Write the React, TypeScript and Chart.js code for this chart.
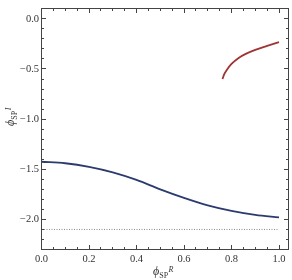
import React, { useEffect, useRef } from "react";
import { Chart, registerables } from "chart.js";

Chart.register(...registerables);

// ---- data ----
const blueX = [0, 0.1, 0.2, 0.3, 0.4, 0.5, 0.6, 0.7, 0.8, 0.9, 1.0];
const blueY = [-1.425, -1.44, -1.475, -1.53, -1.605, -1.70, -1.785, -1.86, -1.915, -1.955, -1.98];

const redX = [0.762, 0.77, 0.78, 0.80, 0.83, 0.86, 0.90, 0.95, 1.0];
const redY = [-0.60, -0.55, -0.51, -0.45, -0.39, -0.35, -0.31, -0.27, -0.232];

const dottedX = [0, 1.0];
const dottedY = [-2.1, -2.1];

// ---- ticks ----
const xMajorTicks = [0, 0.2, 0.4, 0.6, 0.8, 1.0];
const xMinorTicks = [0.05, 0.1, 0.15, 0.25, 0.3, 0.35, 0.45, 0.5, 0.55, 0.65, 0.7, 0.75, 0.85, 0.9, 0.95];
const yMajorTicks = [0, -0.5, -1.0, -1.5, -2.0];
const yMinorTicks = [-0.1, -0.2, -0.3, -0.4, -0.6, -0.7, -0.8, -0.9, -1.1, -1.2, -1.3, -1.4, -1.6, -1.7, -1.8, -1.9, -2.1, -2.2];

const SERIF = '"Liberation Serif", "DejaVu Serif", serif';

function drawPhiLabel(ctx: CanvasRenderingContext2D, sup: string) {
  const parts = [
    { t: "\u03D5", font: `italic 12px ${SERIF}`, dy: 0 },
    { t: "SP", font: `8px ${SERIF}`, dy: 3 },
    { t: sup, font: `italic 8px ${SERIF}`, dy: -3.5 },
  ];
  let total = 0;
  const widths = parts.map((p) => {
    ctx.font = p.font;
    const w = ctx.measureText(p.t).width;
    total += w;
    return w;
  });
  let x = -total / 2;
  ctx.textAlign = "left";
  ctx.textBaseline = "alphabetic";
  ctx.fillStyle = "#333";
  parts.forEach((p, i) => {
    ctx.font = p.font;
    ctx.fillText(p.t, x, p.dy);
    x += widths[i] + (i === 1 ? 0.5 : 0);
  });
}

const framePlugin = {
  id: "frameTicks",
  afterDraw(chart: any) {
    const { ctx, chartArea } = chart;
    const { left, right, top, bottom } = chartArea;
    const xs = chart.scales.x;
    const ys = chart.scales.y;
    const snap = (v: number) => Math.round(v - 0.5) + 0.5;
    ctx.save();
    ctx.strokeStyle = "#444";
    ctx.lineWidth = 1;
    const L = snap(left), R = snap(right), T = snap(top), B = snap(bottom);
    ctx.strokeRect(L, T, R - L, B - T);
    const major = 4.5, minor = 2.5;
    ctx.beginPath();
    const xt = (vals: number[], len: number) => {
      vals.forEach((v) => {
        const px = snap(xs.getPixelForValue(v));
        ctx.moveTo(px, B); ctx.lineTo(px, B - len);
        ctx.moveTo(px, T); ctx.lineTo(px, T + len);
      });
    };
    const yt = (vals: number[], len: number) => {
      vals.forEach((v) => {
        const py = snap(ys.getPixelForValue(v));
        ctx.moveTo(L, py); ctx.lineTo(L + len, py);
        ctx.moveTo(R, py); ctx.lineTo(R - len, py);
      });
    };
    xt(xMajorTicks, major);
    xt(xMinorTicks, minor);
    yt(yMajorTicks, major);
    yt(yMinorTicks, minor);
    ctx.stroke();

    // axis titles
    ctx.save();
    ctx.translate(163, 275);
    drawPhiLabel(ctx, "R");
    ctx.restore();

    ctx.save();
    ctx.translate(14, 117);
    ctx.rotate(-Math.PI / 2);
    drawPhiLabel(ctx, "I");
    ctx.restore();

    ctx.restore();
  },
};

const toPts = (xs: number[], ys: number[]) => xs.map((x, i) => ({ x, y: ys[i] }));

const fmt = (v: number) => (v < 0 ? "\u2212" + Math.abs(v).toFixed(1) : v.toFixed(1));

export default function App() {
  const ref = useRef<HTMLCanvasElement | null>(null);
  useEffect(() => {
    if (!ref.current) return;
    const chart = new Chart(ref.current, {
      type: "scatter",
      data: {
        datasets: [
          {
            data: toPts(dottedX, dottedY),
            showLine: true,
            borderColor: "#8a8a8a",
            borderWidth: 1,
            borderDash: [1, 1.5],
            pointRadius: 0,
          },
          {
            data: toPts(blueX, blueY),
            showLine: true,
            borderColor: "#2c3b6e",
            borderWidth: 1.8,
            pointRadius: 0,
            tension: 0.4,
            cubicInterpolationMode: "monotone",
          },
          {
            data: toPts(redX, redY),
            showLine: true,
            borderColor: "#a03333",
            borderWidth: 1.8,
            pointRadius: 0,
            tension: 0.4,
            cubicInterpolationMode: "monotone",
          },
        ],
      } as any,
      options: {
        animation: false,
        responsive: true,
        maintainAspectRatio: false,
        layout: { padding: { top: 2.5, right: 3.5, left: 0, bottom: 0 } },
        plugins: { legend: { display: false }, tooltip: { enabled: false } },
        scales: {
          x: {
            type: "linear",
            min: 0,
            max: 1.04,
            grid: { display: false, drawTicks: false },
            border: { display: false },
            afterBuildTicks: (s: any) => {
              s.ticks = xMajorTicks.map((v) => ({ value: v }));
            },
            afterFit: (s: any) => {
              s.height = 30.5;
            },
            ticks: {
              padding: 3,
              color: "#333",
              font: { family: SERIF, size: 10.5 },
              maxRotation: 0,
              autoSkip: false,
              callback: (v: any) => fmt(Number(v)),
            },
          },
          y: {
            type: "linear",
            min: -2.3,
            max: 0.1,
            grid: { display: false, drawTicks: false },
            border: { display: false },
            afterBuildTicks: (s: any) => {
              s.ticks = yMajorTicks.map((v) => ({ value: v }));
            },
            afterFit: (s: any) => {
              s.width = 41.5;
            },
            ticks: {
              padding: 2.5,
              color: "#333",
              font: { family: SERIF, size: 10.5 },
              autoSkip: false,
              callback: (v: any) => fmt(Number(v)),
            },
          },
        },
      } as any,
      plugins: [framePlugin],
    });
    return () => chart.destroy();
  }, []);
  return (
    <div style={{ position: "fixed", left: 0, top: 0, width: 292, height: 280, background: "#fff" }}>
      <canvas ref={ref} />
    </div>
  );
}
